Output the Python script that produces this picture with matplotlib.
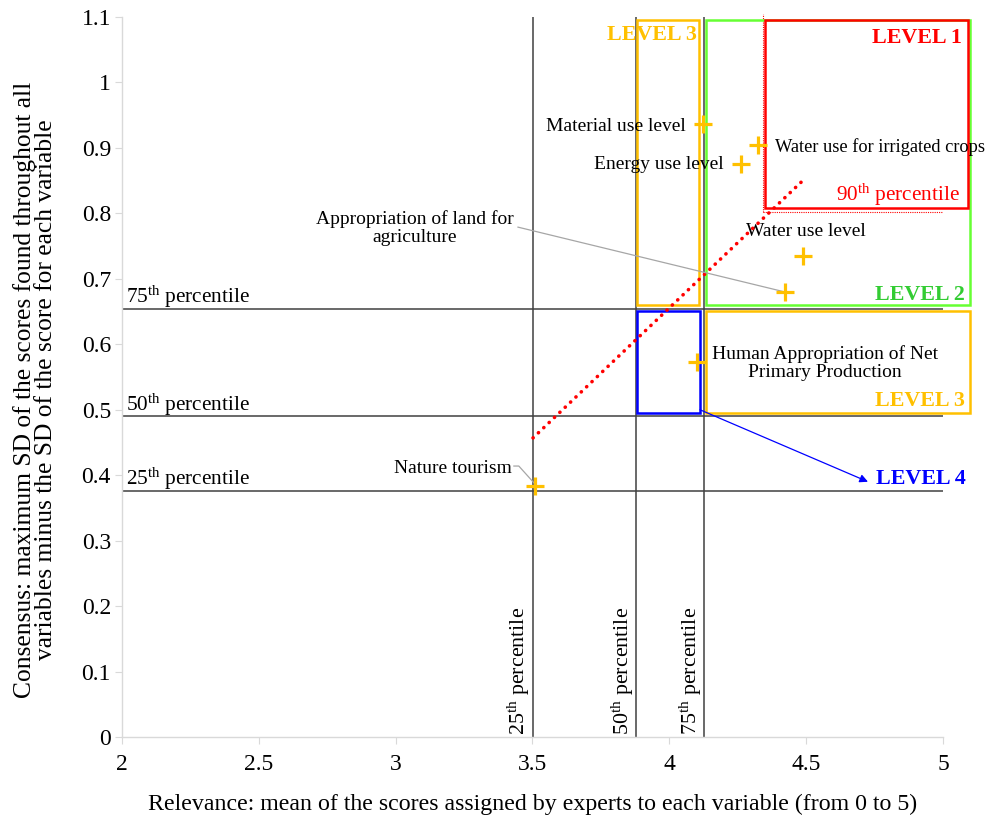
import matplotlib
matplotlib.use("Agg")
import matplotlib.pyplot as plt
from matplotlib.patches import Rectangle

plt.rcParams['font.family'] = ['Liberation Serif', 'DejaVu Serif']
plt.rcParams['mathtext.fontset'] = 'custom'
plt.rcParams['mathtext.rm'] = 'Liberation Serif'
plt.rcParams['mathtext.it'] = 'Liberation Serif:italic'
plt.rcParams['mathtext.bf'] = 'Liberation Serif:bold'

# ---- data ----
variables = ["Nature tourism", "Human Appropriation of Net\nPrimary Production",
             "Appropriation of land for\nagriculture", "Water use level",
             "Energy use level", "Water use for irrigated crops", "Material use level"]
relevance = [3.509, 4.101, 4.422, 4.488, 4.262, 4.324, 4.123]
consensus = [0.383, 0.573, 0.680, 0.735, 0.875, 0.904, 0.937]

x_percentiles = [3.502, 3.878, 4.126]          # 25th, 50th, 75th
y_percentiles = [0.376, 0.490, 0.654]          # 25th, 50th, 75th
x_p90 = 4.343
y_p90 = 0.802
trend_x = [3.502, 4.485]
trend_y = [0.457, 0.849]

xticks = [2, 2.5, 3, 3.5, 4, 4.5, 5]
xticklabels = ["2", "2.5", "3", "3.5", "4", "4.5", "5"]
yticks = [0, 0.1, 0.2, 0.3, 0.4, 0.5, 0.6, 0.7, 0.8, 0.9, 1.0, 1.1]
yticklabels = ["0", "0.1", "0.2", "0.3", "0.4", "0.5", "0.6", "0.7", "0.8", "0.9", "1", "1.1"]

fig = plt.figure(figsize=(9.93, 8.19), dpi=100)
ax = fig.add_axes([0.1229, 0.1001, 0.8267, 0.8791])
ax.set_xlim(2, 5)
ax.set_ylim(0, 1.1)

for s in ['top', 'right']:
    ax.spines[s].set_visible(False)
for s in ['left', 'bottom']:
    ax.spines[s].set_color('#d9d9d9')
    ax.spines[s].set_linewidth(1.0)
ax.tick_params(axis='both', direction='out', length=5, color='#d9d9d9',
               labelsize=17, labelcolor='black')
ax.tick_params(axis='x', pad=7)
ax.tick_params(axis='y', pad=3)
ax.set_xticks(xticks)
ax.set_xticklabels(xticklabels)
ax.set_yticks(yticks)
ax.set_yticklabels(yticklabels)

ax.set_xlabel("Relevance: mean of the scores assigned by experts to each variable (from 0 to 5)",
              fontsize=17.2, labelpad=14)
ylab = ax.set_ylabel("Consensus: maximum SD of the scores found throughout all\n"
                     "variables minus the SD of the score for each variable",
                     fontsize=18.4, linespacing=0.95)
ylab.set_va('center')
ax.yaxis.set_label_coords(-0.1065, 0.482)

lc = '#404040'
# percentile lines
for xv in x_percentiles:
    ax.plot([xv, xv], [0, 1.1], color=lc, lw=1.1, zorder=2)
for yv in y_percentiles:
    ax.plot([2, 5], [yv, yv], color=lc, lw=1.1, zorder=2)

# percentile labels
hlabels = ["25$^{\\mathrm{th}}$ percentile", "50$^{\\mathrm{th}}$ percentile", "75$^{\\mathrm{th}}$ percentile"]
for yv, lab in zip(y_percentiles, hlabels):
    ax.text(2.015, yv - 0.002, lab, fontsize=15.3, ha='left', va='bottom')
vx = [3.452, 3.829, 4.078]
for xv, lab in zip(vx, hlabels):
    ax.text(xv, 0.003, lab, fontsize=15.8, ha='center', va='bottom', rotation=90)

# 90th percentile dotted lines
ax.plot([x_p90, x_p90], [y_p90, 1.105], color='red', lw=0.8, ls=(0, (1, 1)), clip_on=False, zorder=2)
ax.plot([x_p90, 5], [y_p90, y_p90], color='red', lw=0.8, ls=(0, (1, 1)), zorder=2)

# boxes
boxes = [
    (3.882, 0.660, 4.108, 1.095, '#FFC000'),
    (4.134, 0.660, 5.098, 1.095, '#66FF33'),
    (4.349, 0.808, 5.091, 1.095, '#FF0000'),
    (3.882, 0.495, 4.112, 0.651, '#0000FF'),
    (4.134, 0.495, 5.098, 0.651, '#FFC000'),
]
for x0, y0, x1, y1, c in boxes:
    ax.add_patch(Rectangle((x0, y0), x1 - x0, y1 - y0, fill=False, edgecolor=c,
                           lw=1.8, clip_on=False, zorder=3))

# trend line
ax.plot(trend_x, trend_y, color='red', lw=2.6, ls=(0, (0.05, 2.0)),
        dash_capstyle='round', zorder=4)

# points
ax.plot(relevance, consensus, ls='none', marker='+', ms=13, mew=2.3,
        color='#FFC000', zorder=6)

# leader lines
ax.plot([3.447, relevance[2]], [0.779, consensus[2]], color='#a6a6a6', lw=0.9, zorder=5)
ax.plot([3.432, 3.45, relevance[0] - 0.003], [0.414, 0.414, consensus[0] + 0.005],
        color='#a6a6a6', lw=0.9, zorder=5)

# point labels
fs = 14
ax.text(3.425, 0.411, variables[0], fontsize=fs, ha='right', va='center')
ax.text(4.569, 0.571, variables[1], fontsize=fs, ha='center', va='center', linespacing=1.05)
ax.text(3.071, 0.778, variables[2], fontsize=fs, ha='center', va='center', linespacing=1.05)
ax.text(4.280, 0.772, variables[3], fontsize=fs, ha='left', va='center')
ax.text(4.200, 0.874, variables[4], fontsize=fs, ha='right', va='center')
ax.text(4.386, 0.901, variables[5], fontsize=13.2, ha='left', va='center', clip_on=False)
ax.text(4.061, 0.932, variables[6], fontsize=fs, ha='right', va='center')

# level labels
lfs = 15.8
ax.text(4.101, 1.073, "LEVEL 3", color='#FFC000', fontsize=lfs, fontweight='bold', ha='right', va='center')
ax.text(5.069, 1.068, "LEVEL 1", color='#FF0000', fontsize=lfs, fontweight='bold', ha='right', va='center', clip_on=False)
ax.text(5.080, 0.675, "LEVEL 2", color='#33CC33', fontsize=lfs, fontweight='bold', ha='right', va='center', clip_on=False)
ax.text(5.080, 0.513, "LEVEL 3", color='#FFC000', fontsize=lfs, fontweight='bold', ha='right', va='center', clip_on=False)
ax.text(5.084, 0.394, "LEVEL 4", color='#0000FF', fontsize=lfs, fontweight='bold', ha='right', va='center', clip_on=False)
ax.text(5.062, 0.828, "90$^{\\mathrm{th}}$ percentile", color='#FF0000', fontsize=15.3, ha='right', va='center', clip_on=False)

# blue arrow
ax.annotate("", xy=(4.726, 0.390), xytext=(4.112, 0.500),
            arrowprops=dict(arrowstyle='-|>', color='#0000FF', lw=0.9,
                            mutation_scale=12, shrinkA=0, shrinkB=0), zorder=5)

fig.savefig("out.png", dpi=100)
